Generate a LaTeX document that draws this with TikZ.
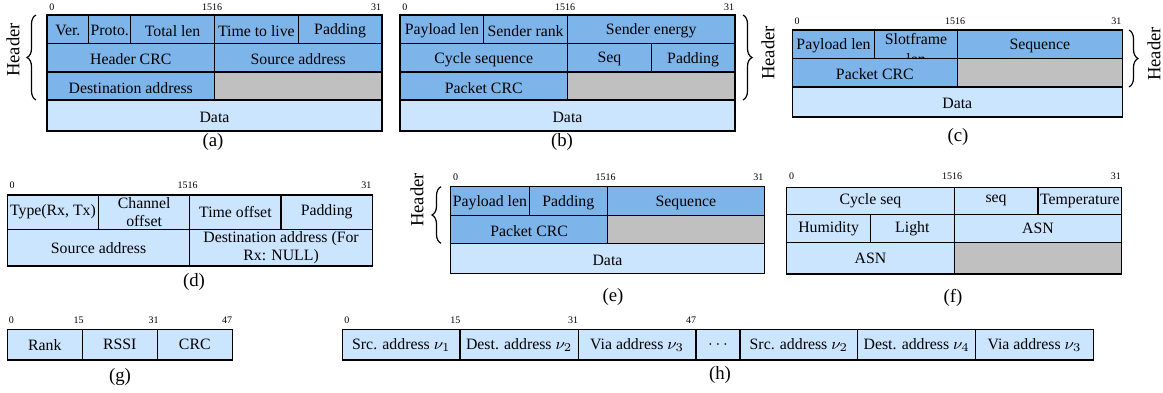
\documentclass[tikz,border=0pt]{standalone}
\usepackage{fontspec}
\setmainfont{Liberation Serif}
\usetikzlibrary{decorations.pathreplacing}
\definecolor{hdrblue}{RGB}{125,180,234}
\definecolor{datablue}{RGB}{204,229,255}
\definecolor{emptygray}{RGB}{192,192,192}
\tikzset{
  darkcell/.style={fill=hdrblue,draw=black,line width=0.6pt},
  lightcell/.style={fill=datablue,draw=black,line width=0.6pt},
  graycell/.style={fill=emptygray,draw=black,line width=0.6pt},
  celltext/.style={font=\fontsize{7.9}{9}\selectfont,align=center,inner sep=0pt},
  bitlbl/.style={font=\fontsize{5}{6}\selectfont,inner sep=0pt},
  figcap/.style={font=\fontsize{9.4}{11}\selectfont,inner sep=0pt},
  hdrlbl/.style={font=\fontsize{9.3}{11}\selectfont,inner sep=0pt,rotate=90},
  hbrace/.style={decorate,decoration={brace,amplitude=4.5pt},line width=0.6pt},
  lowered/.style={celltext/.append style={yshift=-0.8pt}}
}
\newcommand\pcell[7]{%
  \path[#2] (#3,#4) rectangle (#5,#6);
  \node[celltext] (#1) at ({(#3+#5)/2},{(#4+#6)/2}) {#7};}
\begin{document}
\begin{tikzpicture}[x=0.5pt,y=-0.5pt]
\useasboundingbox (0,0) rectangle (1163,392);
% ---------------- (a)
\begin{scope}[lowered]
\pcell{a11}{darkcell}{47}{15}{88.8}{43.5}{Ver.}
\pcell{a12}{darkcell}{88.8}{15}{130.75}{43.5}{Proto.}
\pcell{a13}{darkcell}{130.75}{15}{214.5}{43.5}{Total len}
\pcell{a14}{darkcell}{214.5}{15}{298.25}{43.5}{Time to live}
\pcell{a15}{darkcell}{298.25}{15}{382}{43.5}{Padding}
\pcell{a21}{darkcell}{47}{43.5}{214.5}{72}{Header CRC}
\pcell{a22}{darkcell}{214.5}{43.5}{382}{72}{Source address}
\pcell{a31}{darkcell}{47}{72}{214.5}{100}{Destination address}
\pcell{a32}{graycell}{214.5}{72}{382}{100}{}
\pcell{a41}{lightcell}{47}{100}{382}{131}{Data}
\end{scope}
\node[bitlbl,anchor=west] (ab0) at (49,7.3) {0};
\node[bitlbl] (ab15) at (212,7.3) {1516};
\node[bitlbl,anchor=east] (ab31) at (381.5,7.3) {31};
\draw[hbrace] (36,100) -- (36,15);
\node[hdrlbl] (ahdr) at (13,50) {Header};
\node[figcap] (capa) at (213,142) {(a)};
% ---------------- (b)
\begin{scope}[lowered]
\pcell{b11}{darkcell}{400}{15}{483.75}{43.5}{Payload len}
\pcell{b12}{darkcell}{483.75}{15}{567.5}{43.5}{Sender rank}
\pcell{b13}{darkcell}{567.5}{15}{735}{43.5}{Sender energy}
\pcell{b21}{darkcell}{400}{43.5}{567.5}{72}{Cycle sequence}
\pcell{b22}{darkcell}{567.5}{43.5}{651.25}{72}{Seq}
\pcell{b23}{darkcell}{651.25}{43.5}{735}{72}{Padding}
\pcell{b31}{darkcell}{400}{72}{567.5}{100}{Packet CRC}
\pcell{b32}{graycell}{567.5}{72}{735}{100}{}
\pcell{b41}{lightcell}{400}{100}{735}{131}{Data}
\end{scope}
\node[bitlbl,anchor=west] (bb0) at (402,7.3) {0};
\node[bitlbl] (bb15) at (565,7.3) {1516};
\node[bitlbl,anchor=east] (bb31) at (734.5,7.3) {31};
\draw[hbrace] (743,15) -- (743,100);
\node[hdrlbl] (bhdr) at (768,53) {Header};
\node[figcap] (capb) at (562,142) {(b)};
% ---------------- (c)
\begin{scope}[lowered]
\pcell{c11}{darkcell}{792.3}{30}{874.8}{58.5}{Payload len}
\path[darkcell] (874.8,30) rectangle (957.3,58.5);
\node[celltext,yshift=-1.6pt] (c12) at (916.05,44.25) {Slotframe\\[1.4pt]len};
\pcell{c13}{darkcell}{957.3}{30}{1122.3}{58.5}{Sequence}
\pcell{c21}{darkcell}{792.3}{58.5}{957.3}{87}{Packet CRC}
\pcell{c22}{graycell}{957.3}{58.5}{1122.3}{87}{}
\pcell{c31}{lightcell}{792.3}{87}{1122.3}{117}{Data}
\end{scope}
\node[bitlbl,anchor=west] (cb0) at (794.3,21) {0};
\node[bitlbl] (cb15) at (955,21) {1516};
\node[bitlbl,anchor=east] (cb31) at (1121.8,21) {31};
\draw[hbrace] (1129,30) -- (1129,87);
\node[hdrlbl] (chdr) at (1154,54) {Header};
\node[figcap] (capc) at (958,137) {(c)};
% ---------------- (d)
\pcell{d11}{lightcell}{7.3}{195}{98.55}{229.3}{Type(Rx, Tx)}
\pcell{d12}{lightcell}{98.55}{195}{189.8}{229.3}{Channel\\offset}
\pcell{d13}{lightcell}{189.8}{195}{281.05}{229.3}{Time offset}
\pcell{d14}{lightcell}{281.05}{195}{372.3}{229.3}{Padding}
\pcell{d21}{lightcell}{7.3}{229.3}{189.8}{266}{Source address}
\pcell{d22}{lightcell}{189.8}{229.3}{372.3}{266}{Destination address (For\\Rx: NULL)}
\node[bitlbl,anchor=west] (db0) at (9.3,185.7) {0};
\node[bitlbl] (db15) at (187.5,185.7) {1516};
\node[bitlbl,anchor=east] (db31) at (371.8,185.7) {31};
\node[figcap] (capd) at (194,282) {(d)};
% ---------------- (e)
\begin{scope}[lowered]
\pcell{e11}{darkcell}{450.7}{186.7}{529.1}{215.7}{Payload len}
\pcell{e12}{darkcell}{529.1}{186.7}{607.5}{215.7}{Padding}
\pcell{e13}{darkcell}{607.5}{186.7}{764.3}{215.7}{Sequence}
\pcell{e21}{darkcell}{450.7}{215.7}{607.5}{243.3}{Packet CRC}
\pcell{e22}{graycell}{607.5}{215.7}{764.3}{243.3}{}
\pcell{e31}{lightcell}{450.7}{243.3}{764.3}{273.3}{Data}
\end{scope}
\node[bitlbl,anchor=west] (eb0) at (452.7,177.3) {0};
\node[bitlbl] (eb15) at (605.5,177.3) {1516};
\node[bitlbl,anchor=east] (eb31) at (763.8,177.3) {31};
\draw[hbrace] (441,243.3) -- (441,186.7);
\node[hdrlbl] (ehdr) at (417,200) {Header};
\node[figcap] (cape) at (613,297) {(e)};
% ---------------- (f)
\pcell{f11}{lightcell}{786.7}{187.3}{954.2}{214.3}{Cycle seq}
\pcell{f12}{lightcell}{954.2}{187.3}{1038}{214.3}{seq}
\pcell{f13}{lightcell}{1038}{187.3}{1121.7}{214.3}{Temperature}
\pcell{f21}{lightcell}{786.7}{214.3}{870.5}{242.7}{Humidity}
\pcell{f22}{lightcell}{870.5}{214.3}{954.2}{242.7}{Light}
\pcell{f23}{lightcell}{954.2}{214.3}{1121.7}{242.7}{ASN}
\pcell{f31}{lightcell}{786.7}{242.7}{954.2}{274}{ASN}
\pcell{f32}{graycell}{954.2}{242.7}{1121.7}{274}{}
\node[bitlbl,anchor=west] (fb0) at (788.7,176) {0};
\node[bitlbl] (fb15) at (952,176) {1516};
\node[bitlbl,anchor=east] (fb31) at (1121.2,176) {31};
\node[figcap] (capf) at (953,298) {(f)};
% ---------------- (g)
\pcell{g1}{lightcell}{7.3}{329.3}{82.3}{360}{Rank}
\pcell{g2}{lightcell}{82.3}{329.3}{157.3}{360}{RSSI}
\pcell{g3}{lightcell}{157.3}{329.3}{232.3}{360}{CRC}
\node[bitlbl,anchor=west] (gb0) at (8.5,320) {0};
\node[bitlbl,anchor=east] (gb15) at (84,320) {15};
\node[bitlbl,anchor=east] (gb31) at (159,320) {31};
\node[bitlbl,anchor=east] (gb47) at (232.5,320) {47};
\node[figcap] (capg) at (120,377) {(g)};
% ---------------- (h)
\pcell{h1}{lightcell}{342.7}{329.3}{460}{360}{Src. address $\nu_1$}
\pcell{h2}{lightcell}{460}{329.3}{578.3}{360}{Dest. address $\nu_2$}
\pcell{h3}{lightcell}{578.3}{329.3}{696}{360}{Via address $\nu_3$}
\pcell{h4}{lightcell}{696}{329.3}{740}{360}{$\cdots$}
\pcell{h5}{lightcell}{740}{329.3}{857.7}{360}{Src. address $\nu_2$}
\pcell{h6}{lightcell}{857.7}{329.3}{975.7}{360}{Dest. address $\nu_4$}
\pcell{h7}{lightcell}{975.7}{329.3}{1093.3}{360}{Via address $\nu_3$}
\node[bitlbl,anchor=west] (hb0) at (344,320) {0};
\node[bitlbl,anchor=east] (hb15) at (460.7,320) {15};
\node[bitlbl,anchor=east] (hb31) at (578.5,320) {31};
\node[bitlbl,anchor=east] (hb47) at (696.5,320) {47};
\node[figcap] (caph) at (720,375) {(h)};
\end{tikzpicture}
\end{document}
